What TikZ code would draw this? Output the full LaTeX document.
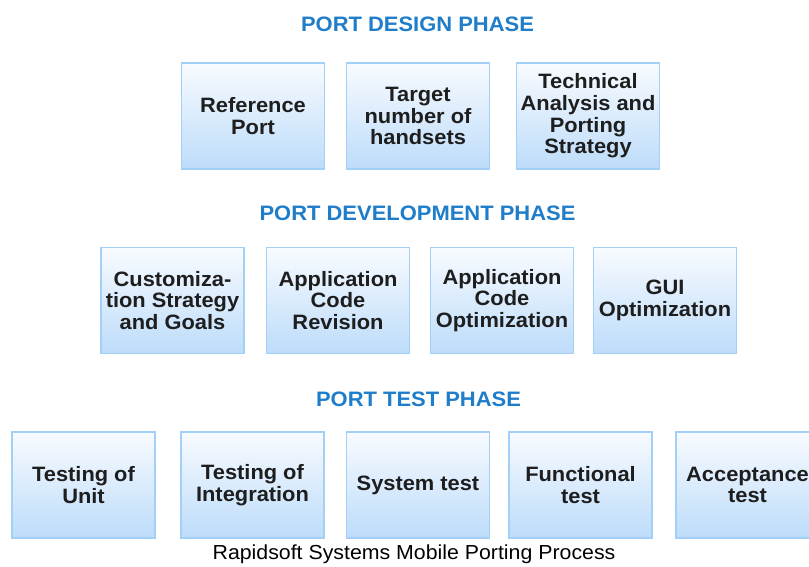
\documentclass[tikz,border=0pt]{standalone}
\usepackage{fontspec}
\setmainfont{Liberation Sans}[FakeStretch=1.05]
\definecolor{phaseblue}{HTML}{1F7DC9}
\definecolor{boxedge}{HTML}{A3D0F7}
\definecolor{boxtop}{HTML}{F8FBFF}
\definecolor{boxbottom}{HTML}{BDDCFA}
\definecolor{boxtext}{HTML}{1E1E1E}
\tikzset{
  stagebox/.style={
    draw=boxedge, line width=1.6pt,
    top color=boxtop, bottom color=boxbottom,
    minimum width=143pt, minimum height=106pt,
    inner sep=0pt, align=center, text=boxtext,
    font=\fontsize{20.8}{21.6}\selectfont\bfseries
  },
  phasetitle/.style={
    text=phaseblue, inner sep=0pt,
    font=\fontsize{20.9}{22}\selectfont\bfseries
  },
  captiontext/.style={
    text=black, inner sep=0pt,
    font=\fontsize{20.3}{22}\selectfont
  }
}
\begin{document}
\begin{tikzpicture}[x=1pt,y=-1pt]
  \useasboundingbox (0,0) rectangle (809,567);
  \clip (0,0) rectangle (809,567);
  \fill[white] (0,0) rectangle (809,567);

  % design phase
  \node[phasetitle] (designtitle) at (417.5,24) {PORT DESIGN PHASE};
  \node[stagebox] (refport) at (253,116) {Reference\\Port};
  \node[stagebox] (handsets) at (418,116) {Target\\number of\\handsets};
  \node[stagebox] (strategy) at (588,116) {Technical\\Analysis and\\Porting\\Strategy};

  % development phase
  \node[phasetitle] (devtitle) at (417.5,213.5) {PORT DEVELOPMENT PHASE};
  \node[stagebox] (custom) at (172.5,300.5) {Customiza-\\tion Strategy\\and Goals};
  \node[stagebox] (revision) at (338,300.5) {Application\\Code\\Revision};
  \node[stagebox] (codeopt) at (502,300.5) {Application\\Code\\Optimization};
  \node[stagebox] (guiopt) at (665,300.5) {GUI\\Optimization};

  % test phase
  \node[phasetitle] (testtitle) at (418.5,399) {PORT TEST PHASE};
  \node[stagebox] (unit) at (83.5,485) {Testing of\\Unit};
  \node[stagebox] (integration) at (252.5,485) {Testing of\\Integration};
  \node[stagebox] (system) at (418,485) {System test};
  \node[stagebox] (functional) at (580.5,485) {Functional\\test};
  \node[stagebox] (acceptance) at (747.5,485) {Acceptance\\test};

  % caption
  \node[captiontext] (caption) at (414,554) {Rapidsoft Systems Mobile Porting Process};
\end{tikzpicture}
\end{document}
